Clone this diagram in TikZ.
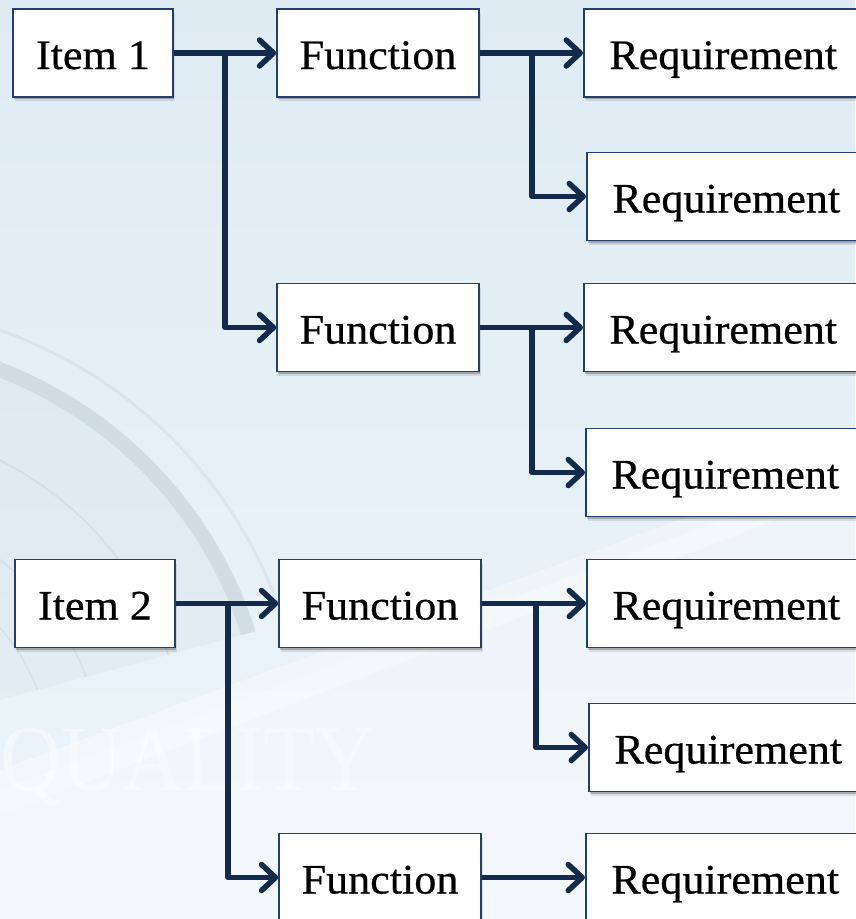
\documentclass[tikz,border=0pt]{standalone}
\usepackage{fontspec}
\setmainfont{Liberation Serif}[FakeStretch=1.05, FakeBold=0.6]
\newfontfamily\wmfont{Liberation Serif}[FakeStretch=0.9]
\usetikzlibrary{arrows.meta,shadows}

\definecolor{bgtop}{HTML}{DFEBF3}
\definecolor{bgbot}{HTML}{EDF5FA}
\definecolor{navy}{HTML}{132A4C}
\definecolor{boxline}{HTML}{23406A}
\definecolor{gearc}{HTML}{AFBCC6}

\tikzset{
  blk/.style={draw=boxline, line width=1.5pt, fill=white, inner sep=0pt,
    minimum height=88pt, text height=32pt, text depth=0pt,
    font=\fontsize{42}{48}\selectfont,
    drop shadow={shadow xshift=1pt, shadow yshift=-2pt, opacity=.22, fill=black},
    drop shadow={shadow xshift=2pt, shadow yshift=-4pt, opacity=.10, fill=black}},
  itembox/.style={blk, minimum width=160pt},
  funcbox/.style={blk, minimum width=202pt},
  reqbox/.style={blk, minimum width=279pt},
  conn/.style={draw=navy, line width=5.5pt, line join=round,
    -{Straight Barb[length=14pt, width=26pt, line cap=round, line join=round]}},
  gearline/.style={draw=gearc, opacity=.3}
}

\begin{document}
\begin{tikzpicture}[x=1pt, y=-1pt]
  % page and background wash
  \useasboundingbox (0,0) rectangle (855,919);
  \begin{scope}
    \clip (0,0) rectangle (855,919);
    \shade[top color=bgtop, bottom color=bgbot] (0,0) rectangle (855,919);

    % faint gear on the left, kept above the light sweep
    \begin{scope}
      \clip (0,0) -- (855,0) -- (855,470) -- (0,700) -- cycle;
      \begin{scope}[shift={(-150,760)}]
        \fill[gearc, opacity=.10] (0,0) circle (425);
        \draw[gearline, line width=15pt] (0,0) circle (418);
        \draw[gearline, line width=3pt, opacity=.2] (0,0) circle (455);
        \draw[gearline, line width=2pt, opacity=.25] (0,0) circle (335);
        \draw[gearline, line width=2pt, opacity=.2] (0,0) circle (250);
        \draw[gearline, line width=2pt, opacity=.2] (0,0) circle (200);
        \foreach \a in {30,40,...,80} {
          \fill[gearc, opacity=.3] (\a-3:455) -- (\a-2.2:510) -- (\a+2.2:510) -- (\a+3:455) -- cycle;
        }
      \end{scope}
    \end{scope}

    % light diagonal sweep in the lower part
    \fill[white, opacity=.30] (0,790) -- (855,470) -- (855,919) -- (0,919) -- cycle;
    \fill[white, opacity=.35] (0,770) -- (855,455) -- (855,490) -- (0,815) -- cycle;

    % watermark lettering
    \node[anchor=base west, inner sep=0pt, text=white, opacity=.42,
          font=\wmfont\fontsize{94}{94}\selectfont] (wm) at (0,790) {QUALITY};
  \end{scope}

  % items
  \node[itembox] (i1) at (93,53) {Item 1};
  \node[itembox] (i2) at (95,603.5) {Item 2};

  % functions
  \node[funcbox] (f1) at (378,53) {Function};
  \node[funcbox] (f2) at (378,327.5) {Function};
  \node[funcbox] (f3) at (380,603.5) {Function};
  \node[funcbox] (f4) at (380,877.5) {Function};

  % requirements (run past the right edge)
  \node[reqbox, anchor=west] (r1) at (583,53) {Requirement};
  \node[reqbox, anchor=west] (r2) at (586,196.5) {Requirement};
  \node[reqbox, anchor=west] (r3) at (583,327.5) {Requirement};
  \node[reqbox, anchor=west] (r4) at (585,472.5) {Requirement};
  \node[reqbox, anchor=west] (r5) at (586,603.5) {Requirement};
  \node[reqbox, anchor=west] (r6) at (588,747.5) {Requirement};
  \node[reqbox, anchor=west] (r7) at (585,877.5) {Requirement};

  % branch points
  \coordinate (j1) at (225,53);
  \coordinate (j2) at (532,53);
  \coordinate (j3) at (532,327.5);
  \coordinate (j4) at (228,603.5);
  \coordinate (j5) at (536,603.5);

  % connectors
  \draw[conn] (i1.east) -- (f1.west);
  \draw[conn] (j1) |- (f2.west);
  \draw[conn] (f1.east) -- (r1.west);
  \draw[conn] (j2) |- (r2.west);
  \draw[conn] (f2.east) -- (r3.west);
  \draw[conn] (j3) |- (r4.west);
  \draw[conn] (i2.east) -- (f3.west);
  \draw[conn] (j4) |- (f4.west);
  \draw[conn] (f3.east) -- (r5.west);
  \draw[conn] (j5) |- (r6.west);
  \draw[conn] (f4.east) -- (r7.west);
\end{tikzpicture}
\end{document}
